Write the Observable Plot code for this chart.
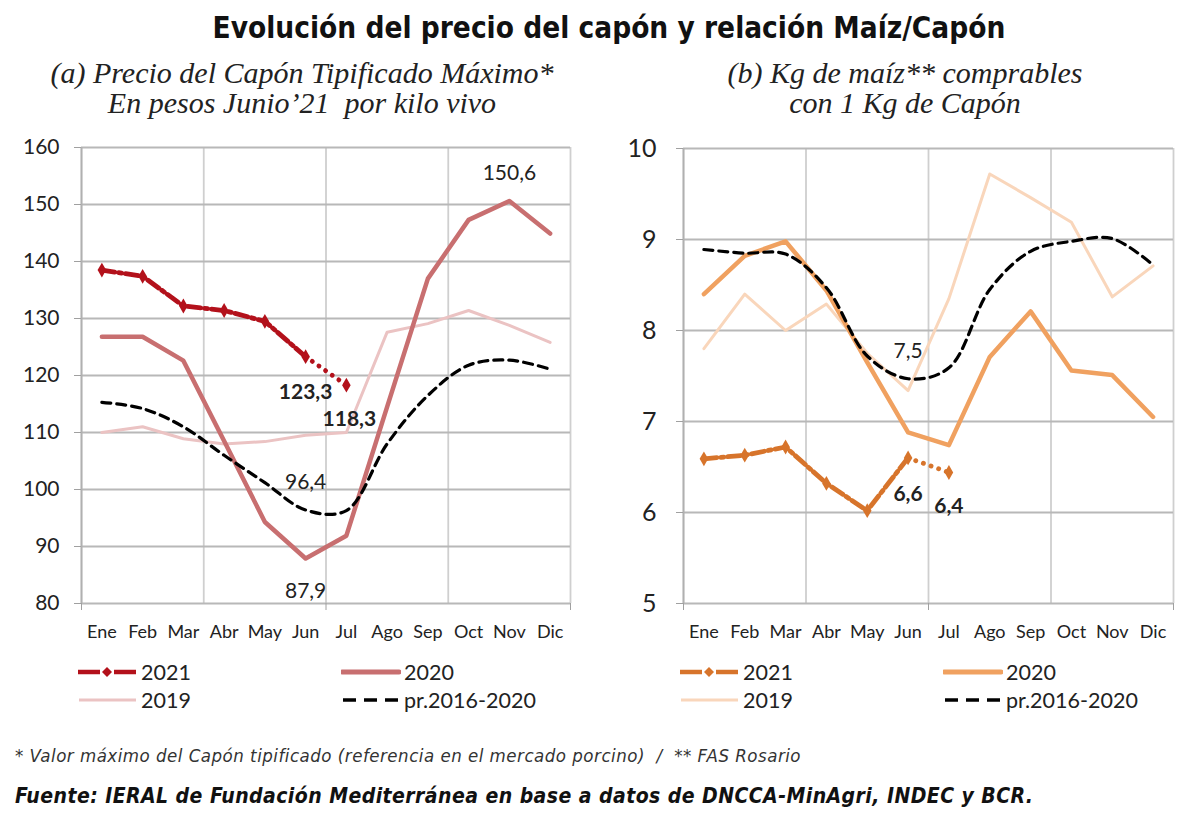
<!DOCTYPE html>
<html>
<head>
<meta charset="utf-8">
<script src="https://cdn.jsdelivr.net/npm/d3@7"></script>
<script src="https://cdn.jsdelivr.net/npm/@observablehq/plot@0.6"></script>
<style>
  body { margin: 0; background: #fff; }
  #page { position: relative; width: 1200px; height: 826px; overflow: hidden; font-family: Lato, "Open Sans", sans-serif; color: #222; background: #fff; }
  .abs { position: absolute; }
  #title { left: 0; width: 1218px; top: 11px; text-align: center; font-family: "DejaVu Sans Condensed", "DejaVu Sans", sans-serif; font-weight: bold; font-size: 29.5px; color: #111; white-space: nowrap; }
  .sub { font-family: "Liberation Serif", serif; font-style: italic; font-size: 30px; line-height: 30px; text-align: center; width: 600px; color: #222; white-space: nowrap; }
  .leg { font-family: Lato, sans-serif; font-size: 21.5px; color: #222; display: flex; align-items: center; height: 24px; white-space: nowrap; }
  .leg svg { margin-right: 3px; }
  #note { left: 15px; top: 745px; font-family: "DejaVu Sans Condensed", "DejaVu Sans", sans-serif; font-style: italic; font-size: 18.5px; letter-spacing: 0.5px; color: #333; white-space: nowrap; }
  #source { left: 15px; top: 784px; font-family: "DejaVu Sans Condensed", "DejaVu Sans", sans-serif; font-style: italic; font-weight: bold; font-size: 21px; letter-spacing: 0.45px; color: #111; white-space: nowrap; }
</style>
</head>
<body>
<div id="page">
  <div id="title" class="abs">Evolución del precio del capón y relación Maíz/Capón</div>
  <div class="abs sub" style="left:2px; top:58px;">(a) Precio del Capón Tipificado Máximo*<br>En pesos Junio’21&nbsp; por kilo vivo</div>
  <div class="abs sub" style="left:605px; top:58px;">(b) Kg de maíz** comprables<br>con 1 Kg de Capón</div>
  <div id="left" class="abs" style="left:0; top:130px;"></div>
  <div id="right" class="abs" style="left:600px; top:130px;"></div>
  <div id="legend"></div>
  <div id="note" class="abs">* Valor máximo del Capón tipificado (referencia en el mercado porcino)&nbsp; /&nbsp; ** FAS Rosario</div>
  <div id="source" class="abs">Fuente: IERAL de Fundación Mediterránea en base a datos de DNCCA-MinAgri, INDEC y BCR.</div>
</div>
<script>
// ---------- data ----------
const months = ["Ene","Feb","Mar","Abr","May","Jun","Jul","Ago","Sep","Oct","Nov","Dic"];

// (a) Precio del capón, pesos Junio'21 por kilo vivo
const precio2021 = [138.5, 137.4, 132.2, 131.4, 129.5, 123.3, 118.3];
const precio2020 = [126.8, 126.8, 122.6, 108.5, 94.3, 87.9, 91.9, 114.5, 137.0, 147.3, 150.6, 144.9];
const precio2019 = [110.0, 111.0, 108.9, 108.0, 108.4, 109.5, 110.0, 127.6, 129.1, 131.4, 128.8, 125.8];
const precioProm = [115.3, 114.2, 111.0, 106.0, 101.2, 96.4, 96.3, 108.0, 116.5, 121.8, 122.7, 121.1];
const precioTicks = [80, 90, 100, 110, 120, 130, 140, 150, 160];

// (b) Kg de maíz comprables con 1 kg de capón
const rel2021 = [6.59, 6.63, 6.72, 6.32, 6.02, 6.6, 6.44];
const rel2020 = [8.40, 8.82, 8.98, 8.44, 7.65, 6.88, 6.74, 7.71, 8.21, 7.56, 7.51, 7.05];
const rel2019 = [7.80, 8.40, 8.00, 8.29, 7.75, 7.34, 8.35, 9.72, 9.46, 9.19, 8.37, 8.71];
const relProm = [8.89, 8.85, 8.84, 8.47, 7.72, 7.47, 7.59, 8.45, 8.87, 8.98, 9.01, 8.72];
const relTicks = [5, 6, 7, 8, 9, 10];

const seriesNames = ["2021", "2020", "2019", "pr.2016-2020"];
const colorsA = {c2021: "#b3111b", c2020: "#c86f70", c2019: "#ebc3c3", prom: "#000"};
const colorsB = {c2021: "#d7742b", c2020: "#f0a160", c2019: "#f9d6bb", prom: "#000"};

// ---------- helpers ----------
const rows = arr => arr.map((v, i) => ({m: i + 1, v}));
const fmt = v => d3.format(".1f")(v).replace(".", ",");

function chart({s2021, s2020, s2019, prom, ticks, colors, ml, mr, mt, yFont, yPad, labels}) {
  const H = 520;
  const bottom = 603 - 130;
  const r21 = rows(s2021);
  const marks = [
    Plot.ruleX([0.5, 3.5, 6.5, 9.5, 12.5], {stroke: "#cfcfcf", strokeWidth: 1.8}),
    Plot.ruleY(ticks, {stroke: "#b8b8b8", strokeWidth: 2}),
    Plot.ruleX([0.5], {stroke: "#b0b0b0", strokeWidth: 1.8}),
    Plot.axisY({ticks, label: null, tickSize: 7, tickPadding: yPad, fontSize: yFont, stroke: "#a0a0a0", fill: "#222", tickFormat: d => String(d)}),
    Plot.axisX({ticks: d3.range(1, 13), label: null, tickFormat: d => months[d - 1], tickSize: 0, tickPadding: 22, fontSize: 18, fill: "#222"}),
    Plot.axisX({ticks: [0.5, 6.5, 12.5], label: null, tickSize: 7, tickFormat: () => "", stroke: "#a0a0a0"}),
    Plot.line(rows(s2019), {x: "m", y: "v", stroke: colors.c2019, strokeWidth: 3}),
    Plot.line(rows(s2020), {x: "m", y: "v", stroke: colors.c2020, strokeWidth: 4.5, strokeLinejoin: "round"}),
    Plot.line(r21.slice(0, 6), {x: "m", y: "v", stroke: colors.c2021, strokeWidth: 4.8, strokeDasharray: "13,4,3,4"}),
    Plot.line(r21.slice(5, 7), {x: "m", y: "v", stroke: colors.c2021, strokeWidth: 4.8, strokeDasharray: "0.1,8", strokeLinecap: "round"}),
    Plot.dot(r21, {x: "m", y: "v", symbol: "diamond", r: 4.5, fill: colors.c2021}),
    Plot.line(rows(prom), {x: "m", y: "v", stroke: colors.prom, strokeWidth: 3.2, strokeDasharray: "9,6", curve: "catmull-rom"})
  ];
  for (const L of labels) {
    marks.push(Plot.text([{m: L.i + 1, v: L.arr[L.i]}], {
      x: "m", y: "v", text: d => fmt(d.v), dy: L.dy, dx: L.dx || 0,
      fontSize: 21, fontWeight: L.bold ? "bold" : "normal", fill: "#222",
      fontFamily: "Lato, sans-serif"
    }));
  }
  return Plot.plot({
    width: 600, height: H,
    marginLeft: ml, marginRight: mr, marginTop: mt, marginBottom: H - bottom,
    style: {fontFamily: "Lato, sans-serif", background: "transparent", overflow: "visible"},
    x: {type: "linear", domain: [0.5, 12.5], axis: null},
    y: {domain: [ticks[0], ticks[ticks.length - 1]], axis: null},
    marks
  });
}

document.getElementById("left").append(chart({
  s2021: precio2021, s2020: precio2020, s2019: precio2019, prom: precioProm,
  ticks: precioTicks, colors: colorsA, ml: 81, mr: 30, mt: 17, yFont: 21, yPad: 15,
  labels: [
    {arr: precio2020, i: 10, dy: -28},
    {arr: precio2021, i: 5, dy: 36, bold: true},
    {arr: precio2021, i: 6, dy: 34, dx: 3, bold: true},
    {arr: precioProm, i: 5, dy: -28},
    {arr: precio2020, i: 5, dy: 33}
  ]
}));

document.getElementById("right").append(chart({
  s2021: rel2021, s2020: rel2020, s2019: rel2019, prom: relProm,
  ticks: relTicks, colors: colorsB, ml: 83, mr: 27, mt: 18, yFont: 25, yPad: 20,
  labels: [
    {arr: relProm, i: 5, dy: -27},
    {arr: rel2021, i: 5, dy: 36, bold: true},
    {arr: rel2021, i: 6, dy: 34, bold: true}
  ]
}));

// ---------- legends ----------
function swatch(kind, color) {
  const ns = "http://www.w3.org/2000/svg";
  const svg = document.createElementNS(ns, "svg");
  svg.setAttribute("width", 60); svg.setAttribute("height", 16);
  const line = (x1, x2, attrs) => {
    const l = document.createElementNS(ns, "line");
    l.setAttribute("x1", x1); l.setAttribute("x2", x2);
    l.setAttribute("y1", 8); l.setAttribute("y2", 8);
    for (const k in attrs) l.setAttribute(k, attrs[k]);
    svg.append(l);
  };
  if (kind === "2021") {
    line(0, 22, {stroke: color, "stroke-width": 4.5});
    line(36, 58, {stroke: color, "stroke-width": 4.5});
    const p = document.createElementNS(ns, "path");
    p.setAttribute("d", "M29,3 L34,8 L29,13 L24,8 Z");
    p.setAttribute("fill", color);
    svg.append(p);
  } else if (kind === "2020") {
    line(1, 58, {stroke: color, "stroke-width": 5, "stroke-linecap": "round"});
  } else if (kind === "2019") {
    line(1, 58, {stroke: color, "stroke-width": 3});
  } else {
    line(2, 58, {stroke: color, "stroke-width": 3.5, "stroke-dasharray": "13,8"});
  }
  return svg;
}
const legendEl = document.getElementById("legend");
function legendBlock(x0, colors) {
  const keys = ["2021", "2020", "2019", "prom"];
  const cols = [x0, x0 + 263];
  const tops = [660, 688];
  keys.forEach((k, idx) => {
    const d = document.createElement("div");
    d.className = "abs leg";
    d.style.left = cols[idx % 2] + "px";
    d.style.top = tops[Math.floor(idx / 2)] + "px";
    const c = k === "prom" ? colors.prom : colors["c" + k];
    d.append(swatch(k, c));
    const t = document.createElement("span");
    t.textContent = (k === "prom" ? " " : "") + seriesNames[idx];
    d.append(t);
    legendEl.append(d);
  });
}
legendBlock(78, colorsA);
legendBlock(680, colorsB);
</script>
</body>
</html>
